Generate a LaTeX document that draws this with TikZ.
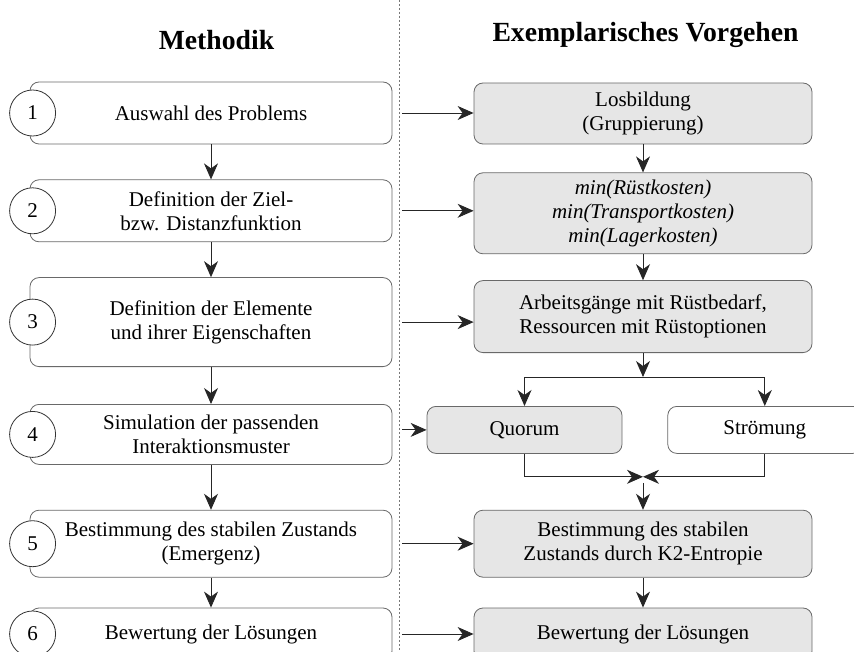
\documentclass[tikz,border=0pt]{standalone}
\usepackage{fontspec}
\setmainfont{Liberation Serif}
\usetikzlibrary{arrows.meta, positioning}
\definecolor{boxGray}{RGB}{230, 230, 230}
\definecolor{lineGray}{RGB}{105, 105, 105}
\definecolor{sepGray}{RGB}{120, 120, 120}

\begin{document}
\begin{tikzpicture}[x=1pt, y=1pt,
  meth/.style={rectangle, draw=lineGray, fill=white, rounded corners=9pt, line width=0.8pt,
              minimum width=362pt, align=center, inner sep=2pt,
              font=\fontsize{21}{24}\selectfont},
  ex/.style={meth, fill=boxGray, minimum width=338pt},
  num/.style={circle, draw=black!80, fill=white, line width=0.8pt, minimum size=46pt,
              inner sep=0pt, font=\fontsize{21}{24}\selectfont},
  head/.style={anchor=base, font=\fontsize{27.7}{32}\selectfont\bfseries},
  arrow/.style={-{Stealth[length=16pt, width=14pt, inset=5pt]}, line width=0.9pt, black!85},
]
  \useasboundingbox (0,0) rectangle (854,-652);
  \clip (0,0) rectangle (854,-652);

  % headings and separator
  \node[head] (hmeth) at (216.5,-50) {Methodik};
  \node[head] (hex) at (645.5,-42) {Exemplarisches Vorgehen};
  \coordinate (septop) at (399,0);
  \coordinate (sepbot) at (399,-652);
  \coordinate (gap) at (402,0);
  \draw[sepGray, line width=0.7pt, dash pattern=on 2pt off 2pt] (septop) -- (sepbot);

  % left column
  \node[meth, minimum height=62pt] (m1) at (211,-113) {Auswahl des Problems};
  \node[meth, minimum height=62pt, below=35pt of m1] (m2) {Definition der Ziel-\\bzw. Distanzfunktion};
  \node[meth, minimum height=89pt, below=35pt of m2] (m3) {Definition der Elemente\\und ihrer Eigenschaften};
  \node[meth, minimum height=60pt, below=37pt of m3] (m4) {Simulation der passenden\\Interaktionsmuster};
  \node[meth, minimum height=67pt, below=45pt of m4] (m5) {Bestimmung des stabilen Zustands\\(Emergenz)};
  \node[meth, minimum height=52pt, below=30pt of m5] (m6) {Bewertung der Lösungen};

  \node[num] (c1) at ([xshift=3pt]m1.west) {1};
  \node[num] (c2) at ([xshift=3pt]m2.west) {2};
  \node[num] (c3) at ([xshift=3pt]m3.west) {3};
  \node[num] (c4) at ([xshift=3pt]m4.west) {4};
  \node[num] (c5) at ([xshift=3pt]m5.west) {5};
  \node[num] (c6) at ([xshift=3pt]m6.west) {6};

  \draw[arrow] (m1) -- (m2);
  \draw[arrow] (m2) -- (m3);
  \draw[arrow] (m3) -- (m4);
  \draw[arrow] (m4) -- (m5);
  \draw[arrow] (m5) -- (m6);

  % right column
  \node[ex, minimum height=61pt] (e1) at (643,-113.5) {Losbildung\\(Gruppierung)};
  \node[ex, minimum height=81pt, below=28pt of e1, font=\fontsize{21}{24}\selectfont\itshape] (e2)
    {min(Rüstkosten)\\min(Transportkosten)\\min(Lagerkosten)};
  \node[ex, minimum height=72pt, below=26pt of e2] (e3) {Arbeitsgänge mit Rüstbedarf,\\Ressourcen mit Rüstoptionen};
  \node[ex, minimum width=195pt, minimum height=47pt, below=53pt of e3, xshift=-118.5pt] (quorum) {Quorum};
  \node[meth, minimum width=194pt, minimum height=47pt, right=45pt of quorum] (stroemung) {Strömung};
  \node[ex, minimum height=67pt, below=56pt of quorum, xshift=118.5pt] (e5) {Bestimmung des stabilen\\Zustands durch K2-Entropie};
  \node[ex, minimum height=52pt, below=30pt of e5] (e6) {Bewertung der Lösungen};

  \coordinate[below=24pt of e3] (split);
  \coordinate[below=23pt of quorum] (qdown);
  \coordinate (merge) at (qdown -| e3);

  \draw[arrow] (e1) -- (e2);
  \draw[arrow] (e2) -- (e3);
  \draw[arrow] (e3) -- (split);
  \draw[arrow] (split) -| (quorum);
  \draw[arrow] (split) -| (stroemung);
  \draw[arrow] (quorum) |- (merge);
  \draw[arrow] (stroemung) |- (merge);
  \draw[arrow] ([yshift=-6pt]merge) -- (e5);
  \draw[arrow] (e5) -- (e6);

  % method -> example
  \draw[arrow] (gap |- m1.east) -- (m1.east -| e1.west);
  \draw[arrow] (gap |- m2.east) -- (m2.east -| e2.west);
  \draw[arrow] (gap |- m3.east) -- (m3.east -| e3.west);
  \draw[arrow] (gap |- quorum.west) -- (quorum.west);
  \draw[arrow] (gap |- m5.east) -- (m5.east -| e5.west);
  \draw[arrow] (gap |- m6.east) -- (m6.east -| e6.west);
\end{tikzpicture}
\end{document}
